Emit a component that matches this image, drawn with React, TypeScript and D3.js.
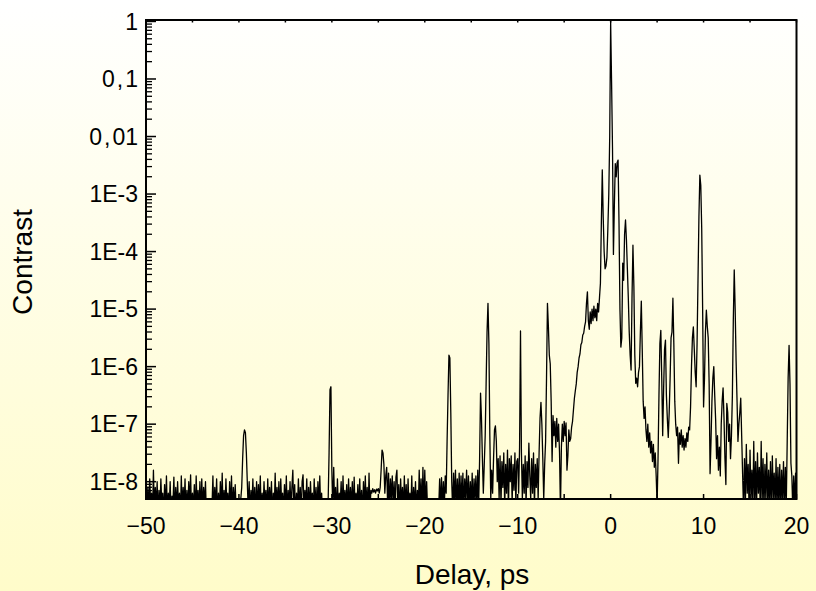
import React from 'react';
import * as d3 from 'd3';

const WIDTH = 816;
const HEIGHT = 591;

// Autocorrelation trace, stored as log10(contrast), 0.1 ps sampling, split by delay range (ps)
const STEP = 0.1;

const farStart = -50;
const farTrace = [
  -8.0, -8.5, -8.1, -8.55, -7.95, -8.4, -8.2, -8.6, -7.8, -8.5, -8.1, -8.45, -8.0, -8.6, -8.15, -8.5, -7.95, -8.4, -8.2, -8.6,
  -8.05, -8.5, -7.9, -8.6, -8.2, -8.45, -8.0, -8.55, -8.25, -8.4, -7.92, -8.6, -8.1, -8.5, -8.0, -8.45, -8.2, -8.6, -7.9, -8.5,
  -8.1, -8.45, -7.95, -8.6, -8.15, -8.5, -8.0, -8.4, -7.88, -8.55, -8.2, -8.5, -8.05, -8.6, -7.9, -8.45, -8.15, -8.5, -8.0, -8.6,
  -7.95, -8.5, -8.1, -8.4, -8.0, -8.6, -8.4, -8.5, -8.45, -8.4, -8.5, -8.45, -7.9, -8.55, -8.1, -8.45, -7.95, -8.6, -8.2, -8.5,
  -8.0, -8.45, -7.85, -8.6, -8.15, -8.5, -7.95, -8.4, -8.2, -8.55, -8.0, -8.5, -7.9, -8.6, -8.1, -8.45, -8.05, -8.5, -8.45, -8.5,
  -8.4, -8.45, -8.3, -8.1, -7.6, -7.2, -7.1, -7.15, -7.5, -8.0, -8.5, -8.0, -8.6, -8.15, -8.45, -7.95, -8.5, -8.1, -8.6, -8.0,
  -8.5, -8.05, -8.45, -7.9, -8.6, -8.2, -8.5, -8.0, -8.4, -8.15, -8.6, -7.95, -8.5, -8.1, -8.45, -8.0, -8.6, -8.2, -8.5, -7.85,
  -8.5, -8.1, -8.45, -8.0, -8.6, -7.95, -8.4, -8.2, -8.55, -8.05, -8.5, -7.9, -8.6, -8.15, -8.45, -8.0, -8.5, -8.1, -7.8, -8.5,
  -8.05, -8.6, -8.2, -8.45, -7.95, -8.5, -8.1, -8.6, -8.0, -7.88, -8.5, -8.15, -8.45, -7.95, -8.6, -8.1, -8.5, -8.0, -8.4, -8.2,
  -8.55, -7.95, -8.5, -8.1, -8.6, -8.0, -8.45, -7.9, -8.5, -8.2, -8.6, -8.4, -8.5, -8.45, -8.5, -8.4, -8.35, -7.5, -6.4, -6.35,
  -7.8, -8.5, -7.75, -8.45, -8.1, -8.6, -7.95, -8.5, -8.2, -8.4, -8.0, -8.6, -7.9, -8.5, -8.15, -8.45, -8.05, -8.6, -7.95, -8.5,
  -8.1, -8.45, -8.0, -8.6, -7.92, -8.5, -8.2, -8.4, -8.05, -8.55, -7.95, -8.5, -8.15, -8.6, -8.0, -8.45, -7.9, -8.5, -8.1, -8.6,
  -7.85, -8.5, -8.15, -8.2, -8.12, -8.18, -8.14, -8.2, -8.13, -8.16, -8.12, -8.2, -8.1, -7.8, -7.45, -7.5, -7.7, -8.2, -7.9, -7.75,
  -8.4, -7.85, -8.5, -7.95, -8.3, -7.9, -8.45, -8.0, -8.5, -7.92, -7.8, -8.45, -8.05, -8.6, -7.95, -8.4, -8.1, -8.55, -7.9, -8.5,
  -8.05, -8.6, -7.95, -8.45, -8.2, -8.5, -7.9, -8.6, -8.1, -8.45, -8.0, -8.55, -8.15, -8.5, -7.8, -8.45, -7.95, -8.6, -7.75, -8.5,
  -7.8, -8.45, -8.0, -8.5, -8.4, -8.45, -8.5, -8.4, -8.45, -8.5, -8.4, -8.45, -8.5, -8.4, -8.5, -8.45, -7.95, -8.5, -7.93, -8.45,
];

const nearStart = -18;
const nearTrace = [
  -8.0, -8.45, -7.9, -8.2, -7.3, -6.5, -5.8, -5.85, -6.8, -8.0, -8.5, -7.85, -8.4, -7.8, -8.5, -7.95, -8.45, -7.85, -8.5, -7.9,
  -8.4, -7.85, -8.5, -7.95, -8.3, -7.8, -8.45, -7.9, -8.5, -8.0, -8.4, -7.85, -8.55, -7.95, -8.3, -7.9, -8.5, -7.8, -8.4, -7.6,
  -6.46, -6.9, -7.6, -8.2, -7.7, -7.2, -6.3, -5.4, -4.9, -5.6, -7.2, -8.3, -7.8, -8.2, -7.6, -7.1, -7.03, -7.3, -8.0, -7.6,
  -8.3, -7.55, -8.4, -7.65, -8.1, -7.5, -8.45, -7.7, -8.2, -7.45, -8.5, -7.6, -8.0, -7.55, -8.35, -7.7, -8.15, -7.5, -8.4, -7.65,
  -7.6, -8.2, -7.4, -5.38, -7.5, -8.3, -7.7, -8.2, -7.55, -8.4, -7.65, -8.1, -7.33, -7.9, -8.3, -7.6, -8.2, -7.5, -8.45, -7.7,
  -8.1, -7.6, -8.3, -7.5, -6.9, -6.62, -7.0, -7.6, -8.3, -7.7, -7.3, -6.2, -4.9, -5.3, -5.8, -5.95, -6.6, -7.65, -6.85, -7.2,
  -6.95, -7.4, -6.9, -7.3, -7.0, -7.5, -8.5, -7.4, -7.0, -7.3, -6.95, -7.2, -6.98, -7.8, -7.55, -7.1, -7.3, -7.25, -7.05, -6.95,
  -6.75, -6.55, -6.42, -6.3, -6.1, -6.0, -5.85, -5.78, -5.62, -5.58, -5.45, -5.42, -5.3, -5.22, -4.9, -4.7, -5.2, -5.35, -5.05, -5.25,
];

const coreStart = -2;
const coreTrace = [
  -5.0, -5.2, -4.95, -5.15, -5.0, -5.2, -4.9, -5.05, -4.8, -4.55,
  -3.5, -2.58, -3.4, -4.0, -4.3, -4.25, -4.1, -3.6, -3.0, -2.0,
  0.0, -1.05, -2.2, -4.05, -3.2, -2.47, -2.7, -2.45, -2.41, -3.5,
  -5.0, -5.66, -5.5, -4.2, -4.5, -3.7, -3.45, -3.8, -4.3, -4.8,
  -5.4, -5.8, -6.06, -4.8, -3.89, -4.6, -5.8, -6.29, -6.2, -6.35,
  -6.1, -6.0, -5.4, -4.86, -5.7, -6.6, -6.9, -6.7, -7.1, -7.3,
  -7.0, -7.4, -7.15, -7.5, -7.3, -7.65, -7.35, -7.75, -7.5, -7.9,
  -8.4, -7.6, -6.5, -5.6, -5.37, -6.2, -7.2, -6.4, -5.7, -5.54,
  -6.5,
];

const tailStart = 6.1;
const tailTrace = [
  -6.9, -7.23, -6.8, -6.2, -5.5, -5.4, -4.81, -5.6, -6.6, -7.0, -7.2, -7.05, -7.68, -7.15, -7.35, -7.1, -7.4, -7.2, -7.45, -7.25,
  -7.4, -7.15, -7.3, -7.05, -7.1, -6.7, -6.0, -5.5, -5.31, -5.7, -6.1, -6.35, -5.6, -4.5, -3.4, -2.67, -2.85, -3.6, -5.0, -6.7,
  -6.2, -5.4, -5.02, -5.3, -5.5, -6.3, -7.86, -7.3, -6.6, -6.2, -6.0, -6.5, -6.93, -7.6, -7.2, -7.8, -7.4, -7.9, -7.0, -6.6,
  -6.37, -6.9, -7.6, -8.05, -6.64, -6.8, -7.3, -7.0, -7.6, -7.2, -6.5, -5.2, -4.32, -5.0, -5.9, -6.58, -7.3, -7.0, -6.8, -6.55,
  -7.2, -7.86, -8.5, -7.6, -8.4, -7.35, -8.2, -7.7, -8.5, -7.45, -8.3, -7.8, -8.45, -7.3, -8.4, -7.65, -8.5, -7.5, -8.2, -7.75,
  -8.45, -7.3, -8.4, -7.6, -8.5, -7.7, -8.3, -7.5, -8.45, -7.8, -8.4, -7.65, -8.5, -7.55, -8.3, -7.85, -8.45, -7.6, -8.5, -7.75,
  -8.4, -7.7, -8.5, -7.8, -8.35, -7.65, -8.5, -7.75, -8.4, -7.3, -6.2, -5.63, -6.3, -7.68, -7.9, -8.5, -7.9, -8.4, -7.85, -8.45,
];

const xTickValues = [-50, -40, -30, -20, -10, 0, 10, 20];
const xTickLabels = ['\u221250', '\u221240', '\u221230', '\u221220', '\u221210', '0', '10', '20'];
const yTickValues = [1, 0.1, 0.01, 1e-3, 1e-4, 1e-5, 1e-6, 1e-7, 1e-8];
const yTickLabels = ['1', '0,1', '0,01', '1E-3', '1E-4', '1E-5', '1E-6', '1E-7', '1E-8'];

const xTitle = 'Delay, ps';
const yTitle = 'Contrast';

const FONT = 'Arial, "Liberation Sans", Helvetica, sans-serif';

// Decimal-comma labels get a little air around the comma
function commaLabel(label: string) {
  const parts = label.split(',');
  if (parts.length === 1) return label;
  return (
    <>
      <tspan>{parts[0]}</tspan>
      <tspan dx={2}>,</tspan>
      <tspan dx={2}>{parts[1]}</tspan>
    </>
  );
}

export default function App() {
  const left = 146;
  const right = 796.5;
  const top = 20;
  const bottom = 499;

  const x = d3.scaleLinear().domain([-50, 20]).range([left, right]);
  const y = d3.scaleLog().domain([5e-9, 1.06]).range([bottom, top]);

  const points: [number, number][] = [];
  const addSegment = (start: number, values: number[]) => {
    values.forEach((v, i) => points.push([start + i * STEP, Math.pow(10, v)]));
  };
  addSegment(farStart, farTrace);
  addSegment(nearStart, nearTrace);
  addSegment(coreStart, coreTrace);
  addSegment(tailStart, tailTrace);

  const line = d3
    .line<[number, number]>()
    .x((d) => x(d[0]))
    .y((d) => y(d[1]));

  const gridX = d3.range(-50, 20.01, 5);
  const minorY: number[] = [];
  for (let e = -9; e <= -1; e++) {
    for (let m = 2; m <= 9; m++) {
      const v = m * Math.pow(10, e);
      if (v >= 5e-9 && v <= 1) minorY.push(v);
    }
  }

  return (
    <div style={{ position: 'absolute', left: 0, top: 0 }}>
      <svg width={WIDTH} height={HEIGHT} style={{ display: 'block' }}>
        <defs>
          <linearGradient id="bg" x1="0" y1="0" x2="0" y2="1">
            <stop offset="0%" stopColor="#ffffff" />
            <stop offset="100%" stopColor="#fffcca" />
          </linearGradient>
          <clipPath id="plotClip">
            <rect x={left} y={top} width={right - left} height={bottom - top} />
          </clipPath>
        </defs>
        <rect x={0} y={0} width={WIDTH} height={HEIGHT} fill="url(#bg)" />

        <path
          d={line(points) ?? ''}
          fill="none"
          stroke="#000"
          strokeWidth={1.3}
          strokeLinejoin="round"
          clipPath="url(#plotClip)"
        />

        {/* ticks along the bottom and top edges */}
        {gridX.map((v) => (
          <g key={`xt${v}`}>
            <line x1={x(v)} x2={x(v)} y1={bottom} y2={bottom - 5} stroke="#000" strokeWidth={1.5} />
            <line x1={x(v)} x2={x(v)} y1={top} y2={top + 2.5} stroke="#000" strokeWidth={1.5} />
          </g>
        ))}
        {/* logarithmic ticks on the left edge */}
        {minorY.map((v) => (
          <line key={`ym${v}`} x1={left} x2={left + 6} y1={y(v)} y2={y(v)} stroke="#000" strokeWidth={1.3} />
        ))}
        {yTickValues.map((v) => (
          <line key={`yM${v}`} x1={left} x2={left + 10} y1={y(v)} y2={y(v)} stroke="#000" strokeWidth={1.5} />
        ))}

        <rect
          x={left}
          y={top}
          width={right - left}
          height={bottom - top}
          fill="none"
          stroke="#000"
          strokeWidth={2}
        />

        {xTickValues.map((v, i) => (
          <text
            key={`xl${v}`}
            x={x(v)}
            y={534}
            textAnchor="middle"
            fontFamily={FONT}
            fontSize={23}
            fill="#000"
          >
            {xTickLabels[i]}
          </text>
        ))}
        {yTickValues.map((v, i) => (
          <text
            key={`yl${v}`}
            x={138}
            y={y(v) + 8.3}
            textAnchor="end"
            fontFamily={FONT}
            fontSize={23}
            fill="#000"
          >
            {commaLabel(yTickLabels[i])}
          </text>
        ))}

        <text x={472} y={584} textAnchor="middle" fontFamily={FONT} fontSize={28} fill="#000">
          {xTitle}
        </text>
        <text
          transform={`translate(32, 262) rotate(-90)`}
          textAnchor="middle"
          fontFamily={FONT}
          fontSize={28}
          fill="#000"
        >
          {yTitle}
        </text>
      </svg>
    </div>
  );
}
